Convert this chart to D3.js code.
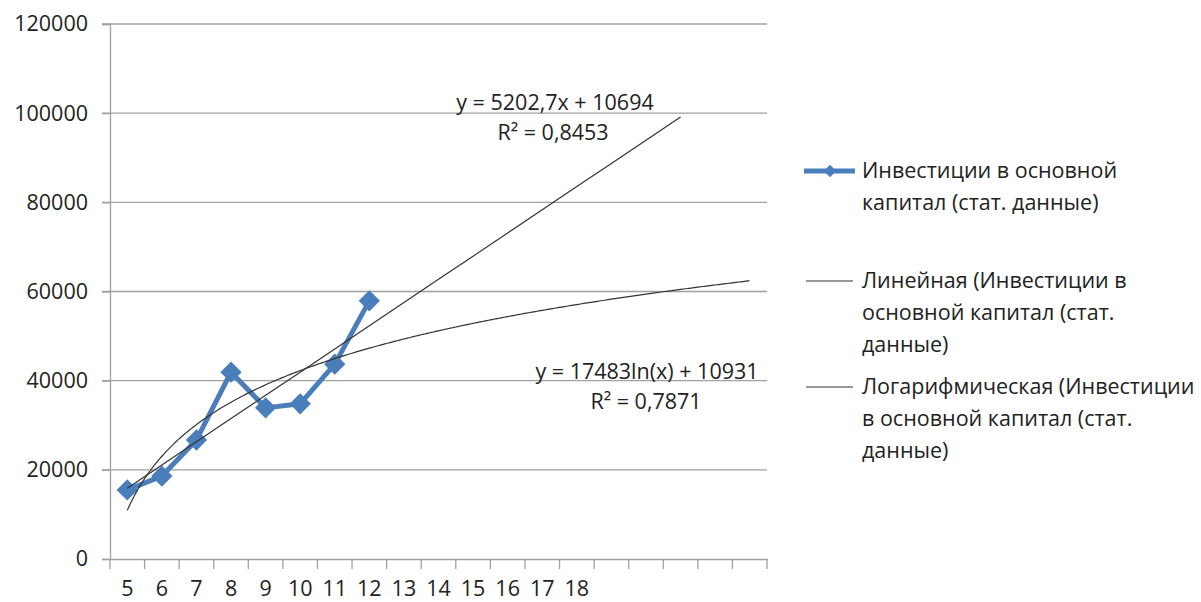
<!DOCTYPE html>
<html><head><meta charset="utf-8">
<script src="https://cdn.jsdelivr.net/npm/d3@7/dist/d3.min.js"></script>
<style>body{margin:0;background:#fff}svg{display:block}text{font-family:"Open Sans",sans-serif;fill:#222}</style>
</head><body><svg id="c" width="1201" height="602"></svg>
<script>
// Data
const categories = ["5","6","7","8","9","10","11","12","13","14","15","16","17","18","","","","",""];
const investValues = [15500, 18600, 26700, 41900, 33900, 34800, 43700, 57900];
const yTicks = [0, 20000, 40000, 60000, 80000, 100000, 120000];
const linearCoef = [5202.7, 10694];   // y = a*x + b
const linearRange = [1, 17];
const logCoef = [17483, 10931];       // y = a*ln(x) + b
const logRange = [1, 19];
const linearLabel = ["y = 5202,7x + 10694", "R² = 0,8453"];
const logLabel = ["y = 17483ln(x) + 10931", "R² = 0,7871"];
const legendLabels = [
  ["Инвестиции в основной", "капитал (стат. данные)"],
  ["Линейная (Инвестиции в", "основной капитал (стат.", "данные)"],
  ["Логарифмическая (Инвестиции", "в основной капитал (стат.", "данные)"]
];

const FS = "21.5px";
const svg = d3.select("#c");
const L = 110, R = 767, T = 24, B = 559;
const x = d3.scaleBand().domain(d3.range(categories.length)).range([L, R]);
const xc = i => x(i) + x.bandwidth()/2;               // index 0-based
const xIdx = v => L + (v - 0.5) * x.bandwidth();      // trend index 1-based (continuous)
const y = d3.scaleLinear().domain([0, 120000]).range([B, T]);
const grid = "#a0a0a0";

// gridlines
svg.append("g").selectAll("line").data(yTicks.filter(d=>d>0)).join("line")
  .attr("x1", L-8).attr("x2", R).attr("y1", d=>y(d)).attr("y2", d=>y(d))
  .attr("stroke", grid).attr("stroke-width", 1.3);

// y axis
const ya = svg.append("g").attr("transform", `translate(${L},0)`)
  .call(d3.axisLeft(y).tickValues(yTicks).tickSize(8).tickPadding(14).tickFormat(d3.format("d")));
ya.select(".domain").attr("stroke", grid).attr("stroke-width", 1.3);
ya.selectAll(".tick line").attr("stroke", grid).attr("stroke-width", 1.3);
ya.selectAll(".tick text").style("font-size", FS).attr("fill", "#222");

// x axis
const xa = svg.append("g").attr("transform", `translate(0,${B})`)
  .call(d3.axisBottom(x).tickSize(0).tickFormat(i => categories[i]).tickPadding(22));
xa.select(".domain").attr("stroke", grid).attr("stroke-width", 1.3);
xa.selectAll(".tick text").style("font-size", FS).attr("fill", "#222");
svg.append("g").selectAll("line").data(d3.range(categories.length + 1)).join("line")
  .attr("x1", i => L + i*x.bandwidth()).attr("x2", i => L + i*x.bandwidth())
  .attr("y1", B).attr("y2", B + 10).attr("stroke", grid).attr("stroke-width", 1.3);

// series
const blue = "#4A7EBB";
svg.append("path").datum(investValues)
  .attr("d", d3.line().x((d,i)=>xc(i)).y(d=>y(d)))
  .attr("fill","none").attr("stroke", blue).attr("stroke-width", 5).attr("stroke-linejoin","round");
const diamond = d3.symbol().type(d3.symbolDiamond2).size(290);
svg.append("g").selectAll("path").data(investValues).join("path")
  .attr("transform", (d,i)=>`translate(${xc(i)},${y(d)})`)
  .attr("d", diamond).attr("fill", blue);

// trendlines
const linPts = d3.range(linearRange[0], linearRange[1] + 0.001, 1);
svg.append("path").datum(linPts)
  .attr("d", d3.line().x(v=>xIdx(v)).y(v=>y(linearCoef[0]*v + linearCoef[1])))
  .attr("fill","none").attr("stroke","#333").attr("stroke-width",1.2);
const logPts = d3.range(logRange[0], logRange[1] + 0.001, 0.05);
svg.append("path").datum(logPts)
  .attr("d", d3.line().x(v=>xIdx(v)).y(v=>y(logCoef[0]*Math.log(v) + logCoef[1])))
  .attr("fill","none").attr("stroke","#333").attr("stroke-width",1.2);

// equation labels
function eq(lines, cx1, cx2, y0){
  const g = svg.append("g");
  g.append("text").attr("x", cx1).attr("y", y0).attr("text-anchor","middle").style("font-size",FS).text(lines[0]);
  g.append("text").attr("x", cx2).attr("y", y0+30).attr("text-anchor","middle").style("font-size",FS).text(lines[1]);
}
eq(linearLabel, 555, 553, 110);
eq(logLabel, 647, 646, 379);

// legend
const lg = svg.append("g");
const lx = 862;
const entries = [{y:171, type:"series"}, {y:281, type:"trend"}, {y:387, type:"trend"}];
entries.forEach((e, k) => {
  if (e.type === "series") {
    lg.append("line").attr("x1", 804).attr("x2", 855).attr("y1", e.y).attr("y2", e.y)
      .attr("stroke", blue).attr("stroke-width", 5);
    lg.append("path").attr("transform", `translate(830,${e.y})`)
      .attr("d", d3.symbol().type(d3.symbolDiamond2).size(100)).attr("fill", blue);
  } else {
    lg.append("line").attr("x1", 806).attr("x2", 853).attr("y1", e.y).attr("y2", e.y)
      .attr("stroke", "#333").attr("stroke-width", 1.2);
  }
  legendLabels[k].forEach((t, j) => {
    lg.append("text").attr("x", lx).attr("y", e.y + j*32 + 7).style("font-size",FS).text(t);
  });
});
</script></body></html>
